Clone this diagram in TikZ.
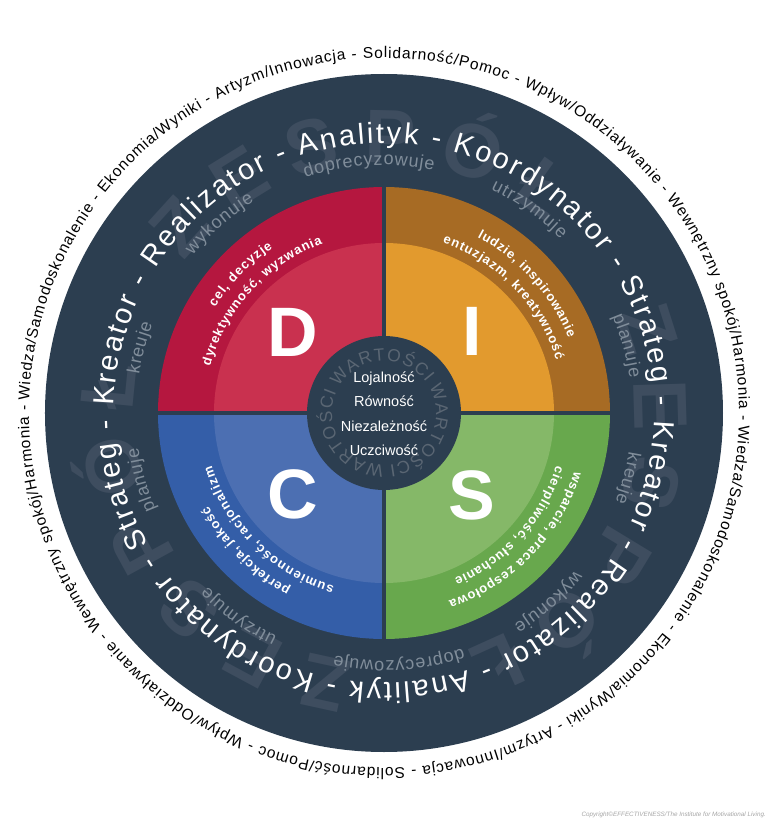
\documentclass[tikz,border=0pt]{standalone}
\usepackage{fontspec}
\setmainfont{Liberation Sans}
\usetikzlibrary{decorations.text}

\definecolor{ringdark}{HTML}{2C3E50}
\definecolor{Ddark}{HTML}{B5173F}
\definecolor{Dlight}{HTML}{C9314F}
\definecolor{Idark}{HTML}{A76B24}
\definecolor{Ilight}{HTML}{E29A2E}
\definecolor{Cdark}{HTML}{345EA8}
\definecolor{Clight}{HTML}{4C6FB2}
\definecolor{Sdark}{HTML}{68A84D}
\definecolor{Slight}{HTML}{85B868}
\definecolor{roletext}{HTML}{808D9A}
\definecolor{teamtext}{HTML}{3E4D5F}
\definecolor{valuetext}{HTML}{5A6673}

\newcommand{\outerfont}{\fontsize{15.5}{15.5}\selectfont}
\newcommand{\rolefont}{\fontsize{29}{29}\selectfont}
\newcommand{\actfont}{\fontsize{18}{18}\selectfont}
\newcommand{\quadfont}{\bfseries\fontsize{13}{13}\selectfont}
\newcommand{\teamfont}{\bfseries\fontsize{76}{76}\selectfont}
\newcommand{\valuefont}{\fontsize{17.5}{17.5}\selectfont}

\begin{document}
\begin{tikzpicture}[x=1pt, y=1pt,
    alongarc/.style={decorate, decoration={text along path, text align=fit to path, text={#1}}},
    letter/.style={text=white, font=\bfseries\fontsize{70}{70}\selectfont, inner sep=0pt},
    value/.style={text=white, font=\fontsize{14.5}{14.5}\selectfont, anchor=base, inner sep=0pt}]
    \useasboundingbox (-384,-415) rectangle (384,413);
    \fill[white] (-384,-415) rectangle (384,413);
    \fill[ringdark] (0,0) circle[radius=339];

    \foreach \s in {143,23,-97}
        \path[alongarc={|\teamfont\color{teamtext}|ZESPÓŁ}] (\s:250) arc[start angle=\s, delta angle=-94, radius=250];

    \foreach \s in {178,-2}
        \path[alongarc={|\outerfont\color{black}|Wiedza/Samodoskonalenie - Ekonomia/Wyniki - Artyzm/Innowacja - Solidarność/Pomoc - Wpływ/Oddziaływanie - Wewnętrzny spokój/Harmonia -}] (\s:355) arc[start angle=\s, delta angle=-179, radius=355];

    \foreach \s in {178.5,-1.5}
        \path[alongarc={|\rolefont\color{white}|Kreator - Realizator - Analityk - Koordynator - Strateg -}] (\s:270) arc[start angle=\s, delta angle=-177, radius=270];

    \foreach \ang/\word/\sweep in {165/kreuje/12, 131/wykonuje/19, 93.5/doprecyzowuje/30, 54.5/utrzymuje/20, 15.5/planuje/15}
        \foreach \h in {0,180}
            \path[alongarc/.expanded={|\noexpand\actfont\noexpand\color{roletext}|\word}] (\ang-\h+\sweep/2:248) arc[start angle=\ang-\h+\sweep/2, delta angle=-\sweep, radius=248];

    \foreach \st/\dk/\lt in {90/Ddark/Dlight, 0/Idark/Ilight, 180/Cdark/Clight, 270/Sdark/Slight} {
        \fill[\dk] (0,0) -- (\st:226) arc[start angle=\st, delta angle=90, radius=226] -- cycle;
        \fill[\lt] (0,0) -- (\st:170) arc[start angle=\st, delta angle=90, radius=170] -- cycle;
    }
    \draw[ringdark, line width=4] (-228,0) -- (228,0) (0,-228) -- (0,228);

    \path[alongarc={|\quadfont\color{white}|cel, decyzje}] (148:199) arc[start angle=148, delta angle=-24, radius=199];
    \path[alongarc={|\quadfont\color{white}|dyrektywność, wyzwania}] (165:180) arc[start angle=165, delta angle=-55, radius=180];
    \path[alongarc={|\quadfont\color{white}|ludzie, inspirowanie}] (62:199) arc[start angle=62, delta angle=-40, radius=199];
    \path[alongarc={|\quadfont\color{white}|entuzjazm, kreatywność}] (71:180) arc[start angle=71, delta angle=-54, radius=180];
    \path[alongarc={|\quadfont\color{white}|perfekcja, jakość}] (-118:199) arc[start angle=-118, delta angle=-34, radius=199];
    \path[alongarc={|\quadfont\color{white}|sumienność, racjonalizm}] (-106:180) arc[start angle=-106, delta angle=-57, radius=180];
    \path[alongarc={|\quadfont\color{white}|wsparcie, praca zespołowa}] (-17:199) arc[start angle=-17, delta angle=-54, radius=199];
    \path[alongarc={|\quadfont\color{white}|cierpliwość, słuchanie}] (-17:180) arc[start angle=-17, delta angle=-50, radius=180];

    \fill[ringdark] (0,0) circle[radius=77];
    \foreach \s in {150,30,-90}
        \path[alongarc={|\valuefont\color{valuetext}|WARTOŚCI}] (\s:52) arc[start angle=\s, delta angle=-114, radius=52];

    \node[value] (loyal) at (0,31) {Lojalność};
    \node[value] (equal) at (0,6.5) {Równość};
    \node[value] (indep) at (0,-18) {Niezależność};
    \node[value] (honest) at (0,-42.5) {Uczciwość};

    \node[letter] (dom) at (-91.5,81) {D};
    \node[letter] (inf) at (88,82) {I};
    \node[letter] (con) at (-91.5,-81) {C};
    \node[letter] (ste) at (88,-82) {S};

    \node[anchor=east, text=gray!70, font=\itshape\fontsize{6.3}{6.3}\selectfont, inner sep=0pt] (copy) at (382,-402) {Copyright©EFFECTIVENESS/The Institute for Motivational Living.};
\end{tikzpicture}
\end{document}
